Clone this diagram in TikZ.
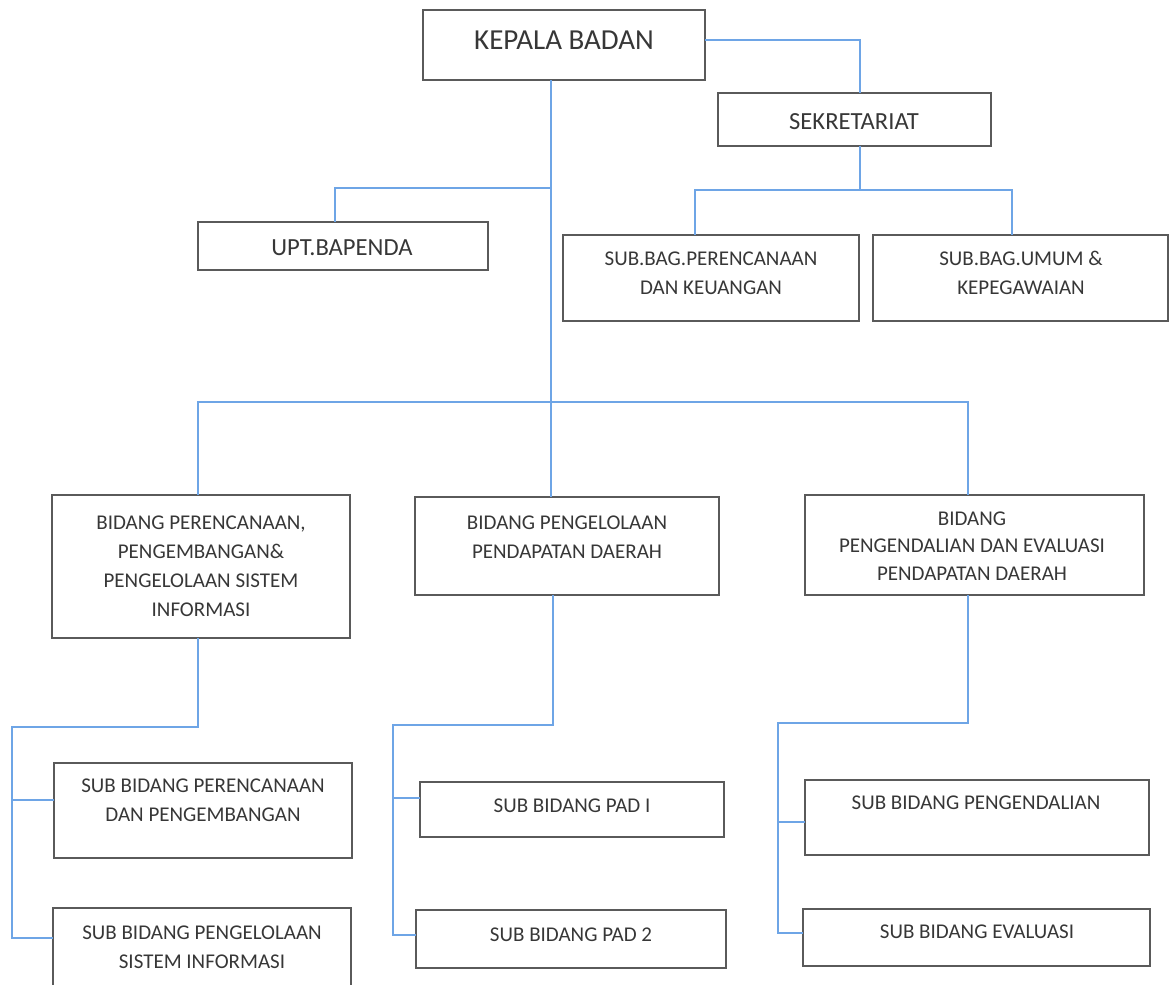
\documentclass[tikz,border=0pt]{standalone}
\usepackage{fontspec}
\setmainfont{Carlito}
\usepackage{xcolor}
\usepackage{tikz}

\definecolor{linkblue}{RGB}{110,165,230}
\definecolor{boxgray}{RGB}{90,90,90}
\definecolor{textgray}{RGB}{55,55,55}

\begin{document}
\begin{tikzpicture}[x=0.5pt, y=-0.5pt,
    box/.style={draw=boxgray, line width=0.6pt, inner sep=0pt, outer sep=0pt},
    txt/.style={text=textgray, align=center, inner sep=0pt, font=\fontsize{10.5}{14.5}\selectfont},
    link/.style={draw=linkblue, line width=0.9pt}]
    \useasboundingbox (0,0) rectangle (1169,985);

    % Top level
    \node[box, minimum width=141pt, minimum height=35pt] (kb) at (564,45) {};
    \node[txt, font=\fontsize{14.5}{17}\selectfont] (kbt) at (564,40) {KEPALA BADAN};
    \node[box, minimum width=136.5pt, minimum height=26.5pt] (sek) at (854.5,119.5) {};
    \node[txt, font=\fontsize{12.3}{15}\selectfont] (sekt) at (854,122) {SEKRETARIAT};
    \node[box, minimum width=145pt, minimum height=24pt] (upt) at (343,246) {};
    \node[txt, font=\fontsize{12.3}{15}\selectfont] (uptt) at (342,248) {UPT.BAPENDA};

    % Sub bagian of sekretariat
    \node[box, minimum width=148pt, minimum height=43pt] (sbp) at (711,278) {};
    \node[txt] (sbpt) at (711,273) {SUB.BAG.PERENCANAAN\\DAN KEUANGAN};
    \node[box, minimum width=147.5pt, minimum height=43pt] (sbu) at (1020.5,278) {};
    \node[txt] (sbut) at (1021,273) {SUB.BAG.UMUM \&\\KEPEGAWAIAN};

    % Bidang
    \node[box, minimum width=149pt, minimum height=71.5pt] (bpr) at (201,566.5) {};
    \node[txt] (bprt) at (201,566) {BIDANG PERENCANAAN,\\PENGEMBANGAN\&\\PENGELOLAAN SISTEM\\INFORMASI};
    \node[box, minimum width=152pt, minimum height=49pt] (bpp) at (567,546) {};
    \node[txt] (bppt) at (567,537) {BIDANG PENGELOLAAN\\PENDAPATAN DAERAH};
    \node[box, minimum width=169.5pt, minimum height=50pt] (bpe) at (974.5,545) {};
    \node[txt, font=\fontsize{10.5}{13.75}\selectfont] (bpet) at (972,546) {BIDANG\\PENGENDALIAN DAN EVALUASI\\PENDAPATAN DAERAH};

    % Sub bidang
    \node[box, minimum width=149pt, minimum height=47.5pt] (sb1) at (203,810.5) {};
    \node[txt] (sb1t) at (203,800) {SUB BIDANG PERENCANAAN\\DAN PENGEMBANGAN};
    \node[box, minimum width=149pt, minimum height=46pt] (sb2) at (202,954) {};
    \node[txt] (sb2t) at (202,947) {SUB BIDANG PENGELOLAAN\\SISTEM INFORMASI};
    \node[box, minimum width=152pt, minimum height=27.5pt] (pad1) at (572,809.5) {};
    \node[txt] (pad1t) at (572,806) {SUB BIDANG PAD I};
    \node[box, minimum width=155pt, minimum height=29pt] (pad2) at (571,939) {};
    \node[txt] (pad2t) at (571,935) {SUB BIDANG PAD 2};
    \node[box, minimum width=172pt, minimum height=37.5pt] (spg) at (977,817.5) {};
    \node[txt] (spgt) at (976,803) {SUB BIDANG PENGENDALIAN};
    \node[box, minimum width=173.5pt, minimum height=28.5pt] (sev) at (976.5,937.5) {};
    \node[txt] (sevt) at (977,932) {SUB BIDANG EVALUASI};

    % Junctions
    \coordinate (j1) at (551,188);
    \coordinate (j2) at (551,402);
    \coordinate (j3) at (860,190);
    \coordinate (l1) at (12,727);
    \coordinate (m1) at (393,725);
    \coordinate (r1) at (778,723);

    % Connectors
    \draw[link] ([yshift=2.5pt]kb.east) -| ([xshift=2.75pt]sek.north);
    \draw[link] ([xshift=-6.5pt]kb.south) -- ([xshift=-8pt]bpp.north);
    \draw[link] (j1) -| ([xshift=-4pt]upt.north);
    \draw[link] ([xshift=-1.5pt]bpr.north) |- (j2) -| ([xshift=-3.25pt]bpe.north);
    \draw[link] ([xshift=2.75pt]sek.south) -- (j3);
    \draw[link] ([xshift=-8pt]sbp.north) |- (j3) -| ([xshift=-4.25pt]sbu.north);

    \draw[link] ([xshift=-1.5pt]bpr.south) |- (l1) |- ([yshift=8pt]sb2.west);
    \draw[link] (l1) |- ([yshift=5.25pt]sb1.west);
    \draw[link] ([xshift=-7pt]bpp.south) |- (m1) |- ([yshift=2pt]pad2.west);
    \draw[link] (m1) |- ([yshift=5.75pt]pad1.west);
    \draw[link] ([xshift=-3.25pt]bpe.south) |- (r1) |- ([yshift=2.25pt]sev.west);
    \draw[link] (r1) |- ([yshift=-2.25pt]spg.west);
\end{tikzpicture}
\end{document}
